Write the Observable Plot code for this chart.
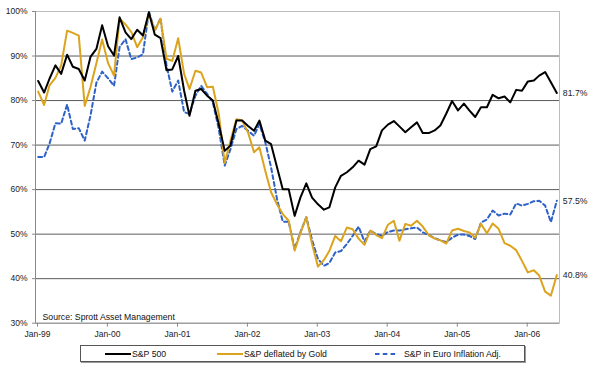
<!DOCTYPE html>
<html><head><meta charset="utf-8">
<script src="https://cdn.jsdelivr.net/npm/d3@7"></script>
<script src="https://cdn.jsdelivr.net/npm/@observablehq/plot@0.6"></script>
<style>
body{margin:0;background:#fff;font-family:"Liberation Sans",Arial,sans-serif;}
#wrap{position:relative;width:600px;height:371px;overflow:hidden;background:#fff;}
#legend{position:absolute;left:80px;top:345px;width:445px;height:17px;border:1px solid #555;box-sizing:border-box;background:#fff;box-shadow:1px 1px 0 #999;}
.item{position:absolute;top:0;height:15px;display:flex;align-items:center;font-size:8.7px;color:#111;white-space:nowrap;}
.item svg{margin-right:1px;}
</style></head><body><div id="wrap"><div id="chart"></div><div id="legend"></div></div>
<script>
// Monthly observations, Jan-1999 .. Jun-2006 (values in %)
const sp500 = [84.4,81.8,84.9,87.9,86.0,90.3,87.6,87.1,84.5,89.8,91.6,96.9,
  92.2,90.1,98.7,95.3,93.8,95.9,94.6,99.8,94.8,94.0,86.8,87.0,
  90.0,82.2,76.6,82.2,82.6,81.1,80.0,74.7,68.7,69.9,75.5,75.5,
  74.3,73.2,75.5,71.0,70.2,65.0,60.1,60.1,54.1,58.2,61.4,58.2,
  56.7,55.5,56.0,60.5,63.1,63.9,65.0,66.5,65.6,69.1,69.7,73.3,
  74.6,75.4,74.2,72.9,74.0,75.1,72.7,72.7,73.3,74.4,77.1,79.9,
  77.8,79.3,77.8,76.3,78.5,78.5,81.3,80.5,80.9,79.6,82.4,82.2,
  84.3,84.5,85.6,86.4,84.1,81.7];
const goldDeflated = [82.0,79.0,83.4,85.1,87.9,95.7,95.2,94.6,78.8,83.0,88.4,93.7,
  88.4,85.6,98.4,97.1,95.4,92.0,94.2,99.6,95.7,98.4,89.4,88.9,
  94.0,86.0,82.6,86.7,86.3,83.0,83.1,77.0,66.0,71.0,75.8,75.5,
  72.8,68.4,69.5,64.2,59.4,56.7,54.5,53.0,46.3,50.2,53.8,47.8,
  42.7,44.2,46.2,49.6,48.4,51.5,51.1,49.0,47.6,50.8,49.8,49.1,
  52.1,53.0,48.5,52.3,51.9,53.0,51.7,49.8,49.0,48.6,47.9,50.8,
  51.2,50.7,50.4,49.2,52.3,50.2,52.4,51.2,48.0,47.4,46.4,44.0,
  41.4,41.9,40.7,37.1,36.2,40.8];
const euroAdj = [67.3,67.3,70.3,74.9,74.8,79.1,73.6,73.8,71.0,76.6,84.0,86.5,
  85.0,83.3,92.0,93.8,89.3,89.7,90.4,100.0,95.7,98.5,88.0,82.0,
  84.5,77.4,77.0,81.1,83.3,81.5,79.6,73.6,65.4,69.1,73.6,74.3,
  73.2,72.1,74.7,70.6,65.0,57.9,52.8,52.8,46.7,50.4,53.8,48.7,
  44.4,42.9,43.5,45.9,46.2,47.8,49.6,51.7,48.3,50.8,50.0,49.6,
  50.5,50.8,50.8,51.1,51.3,51.5,50.4,49.8,49.1,48.6,48.2,49.2,
  49.9,49.9,49.6,48.9,52.6,53.3,55.3,54.2,54.6,54.4,56.9,56.4,
  56.8,57.4,57.5,56.4,52.7,57.5];
const seriesNames = ["S&P 500","S&P deflated by Gold","S&P in Euro Inflation Adj."];
const seriesColors = ["#000000","#DCA41E","#2F62C8"];
const yTicks = [30,40,50,60,70,80,90,100];
const gridValues = [40,50,60,70,80,90];
const xTickYears = [1999,2000,2001,2002,2003,2004,2005,2006];
const sourceText = "Source: Sprott Asset Management";

const dates = sp500.map((_, i) => new Date(Date.UTC(1999, i, 15)));
const allSeries = [sp500, goldDeflated, euroAdj];
const tables = allSeries.map((vals, s) => vals.map((v, i) => ({date: dates[i], value: v, series: seriesNames[s]})));
const lastPoints = tables.map(t => t[t.length - 1]);
const xTicks = xTickYears.map(y => new Date(Date.UTC(y, 0, 1)));
const x0 = new Date(Date.UTC(1999, 0, 1)), x1 = new Date(Date.UTC(2006, 5, 29));
const font = '"Liberation Sans", Arial, sans-serif';

const chart = Plot.plot({
  width: 600, height: 342,
  marginLeft: 35, marginRight: 41, marginTop: 11, marginBottom: 19.3,
  style: {fontFamily: font, fontSize: "8.5px", color: "#222", background: "white", overflow: "visible"},
  x: {type: "utc", domain: [x0, x1]},
  y: {domain: [30, 100]},
  marks: [
    Plot.ruleY(gridValues, {stroke: "#5c5c5c", strokeWidth: 1}),
    Plot.frame({stroke: "#bdbdbd"}),
    Plot.ruleY([30], {stroke: "#8a8a8a"}),
    Plot.ruleX([x0], {stroke: "#8a8a8a"}),
    Plot.axisY({ticks: yTicks, tickFormat: d => d + "%", tickSize: 3, tickPadding: 5, label: null, stroke: "#8a8a8a"}),
    Plot.axisX({ticks: xTicks, tickFormat: d3.utcFormat("%b-%y"), tickSize: 4, tickPadding: 4, dx: 2, label: null, stroke: "#8a8a8a"}),
    Plot.text([sourceText], {frameAnchor: "bottom-left", dx: 7, dy: -3, text: d => d, fontSize: 8.7, fill: "#111"}),
    Plot.line(tables[2], {x: "date", y: "value", stroke: seriesColors[2], strokeWidth: 2, strokeDasharray: "4,3"}),
    Plot.line(tables[1], {x: "date", y: "value", stroke: seriesColors[1], strokeWidth: 2}),
    Plot.line(tables[0], {x: "date", y: "value", stroke: seriesColors[0], strokeWidth: 2}),
    Plot.text(lastPoints, {x: "date", y: "value", text: d => d.value.toFixed(1) + "%", dx: 6, textAnchor: "start", fontSize: 8.7, fill: "#222"})
  ]
});
document.getElementById("chart").appendChild(chart);

// legend
const legend = document.getElementById("legend");
const legendX = [24, 136, 294];
seriesNames.forEach((name, s) => {
  const it = document.createElement("div");
  it.className = "item";
  it.style.left = legendX[s] + "px";
  const dash = s === 2 ? 'stroke-dasharray="4.5,3.3"' : '';
  it.innerHTML = `<svg width="${s===2?22:26}" height="6"><line x1="0" y1="3" x2="${s===2?22:26}" y2="3" stroke="${seriesColors[s]}" stroke-width="2" ${dash}/></svg><span style="margin-left:${s===2?6:0}px">${name.replace(/&/g,"&amp;")}</span>`;
  legend.appendChild(it);
});
</script></body></html>
